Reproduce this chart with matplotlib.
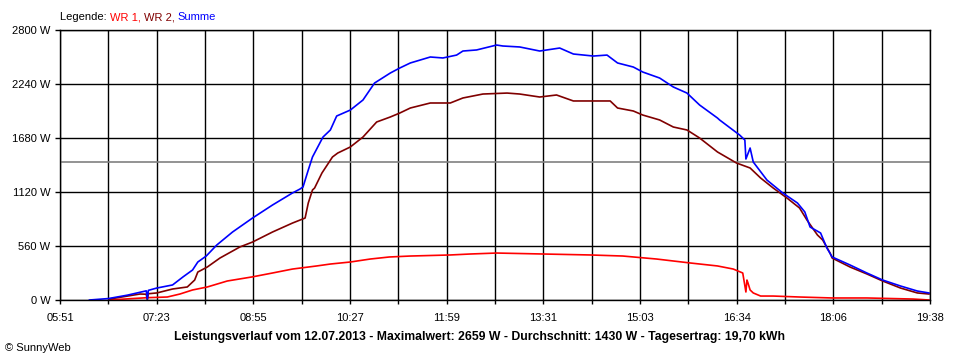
import matplotlib
matplotlib.use("Agg")
import matplotlib.pyplot as plt
import numpy as np

# Zeiten als "HH:MM", Leistung in W
summe_t = ["06:19", "06:37", "06:55", "07:13", "07:14", "07:15", "07:23", "07:38", "07:48",
           "07:57", "08:02", "08:10", "08:20", "08:35", "08:54", "09:13", "09:32", "09:39",
           "09:42", "09:47", "09:51", "10:01", "10:08", "10:14", "10:27", "10:39", "10:50",
           "11:05", "11:14", "11:24", "11:43", "11:55", "12:08", "12:14", "12:27", "12:46",
           "12:52", "13:08", "13:27", "13:46", "13:59", "14:18", "14:31", "14:41", "14:56",
           "15:05", "15:21", "15:34", "15:47", "15:59", "16:16", "16:18", "16:37", "16:42",
           "16:43", "16:47", "16:50", "17:03", "17:18", "17:32", "17:39", "17:44", "17:54",
           "18:00", "18:05", "18:22", "18:38", "18:53", "19:10", "19:26", "19:37"]
summe_w = [0, 15, 50, 95, 10, 100, 124, 156, 240,
           311, 394, 456, 570, 705, 850, 985, 1110, 1150,
           1172, 1348, 1483, 1690, 1763, 1908, 1970, 2074, 2250,
           2354, 2406, 2458, 2520, 2510, 2540, 2582, 2593, 2644,
           2634, 2624, 2582, 2613, 2551, 2530, 2540, 2458, 2416,
           2364, 2302, 2209, 2146, 2022, 1887, 1867, 1711, 1659,
           1462, 1576, 1431, 1244, 1110, 1006, 913, 757, 695,
           539, 446, 363, 280, 207, 145, 93, 73]

wr2_t = ["06:38", "07:07", "07:13", "07:14", "07:15", "07:23", "07:38", "07:52", "07:59",
         "08:02", "08:11", "08:23", "08:42", "08:54", "09:13", "09:32", "09:44", "09:47",
         "09:51", "09:53", "10:00", "10:10", "10:15", "10:27", "10:39", "10:52", "11:05",
         "11:14", "11:24", "11:43", "12:02", "12:14", "12:33", "12:56", "13:08", "13:27",
         "13:43", "13:59", "14:18", "14:34", "14:41", "14:56", "15:05", "15:21", "15:34",
         "15:47", "15:59", "16:16", "16:34", "16:47", "16:57", "17:09", "17:22", "17:34",
         "17:41", "17:51", "17:56", "18:03", "18:05", "18:22", "18:38", "18:53", "19:10",
         "19:26", "19:37"]
wr2_w = [10, 62, 60, 0, 65, 73, 114, 135, 207,
         290, 342, 435, 550, 601, 705, 798, 850, 1006,
         1141, 1161, 1317, 1483, 1524, 1587, 1690, 1846, 1898,
         1939, 1991, 2043, 2043, 2095, 2136, 2146, 2136, 2105,
         2126, 2064, 2064, 2064, 1991, 1960, 1918, 1867, 1794,
         1763, 1680, 1535, 1421, 1369, 1265, 1161, 1058, 954,
         830, 674, 622, 487, 435, 342, 270, 197, 124,
         73, 62]

wr1_t = ["06:38", "06:57", "07:14", "07:33", "07:45", "07:57", "08:11", "08:30", "08:54",
         "09:13", "09:32", "09:55", "10:08", "10:27", "10:46", "11:04", "11:24", "12:02",
         "12:21", "12:46", "13:30", "14:15", "14:46", "15:18", "15:50", "16:16", "16:31",
         "16:40", "16:43", "16:44", "16:45", "16:47", "16:50", "16:57", "17:09", "17:34",
         "18:05", "18:38", "19:22", "19:37"]
wr1_w = [0, 13, 24, 31, 62, 104, 135, 197, 240,
         280, 321, 353, 373, 394, 425, 446, 456, 467,
         477, 487, 477, 467, 456, 425, 384, 353, 321,
         280, 83, 207, 176, 104, 73, 41, 41, 31,
         21, 21, 10, 0]

avg_w = 1430
x_labels = ["05:51", "07:23", "08:55", "10:27", "11:59", "13:31", "15:03", "16:34", "18:06", "19:38"]
y_ticks = [0, 560, 1120, 1680, 2240, 2800]


def to_min(ts):
    return [int(s[:2]) * 60 + int(s[3:]) for s in ts]


plt.rcParams['font.family'] = ['Liberation Sans', 'DejaVu Sans']

fig = plt.figure(figsize=(9.6, 3.6), dpi=100)
ax = fig.add_axes([60 / 960, 60 / 360, 870 / 960, 270 / 360])

t0, t1 = 351, 1178
ax.set_xlim(t0, t1)
ax.set_ylim(0, 2800)

ax.set_xticks(np.linspace(t0, t1, 10))
ax.set_xticklabels(x_labels, fontsize=8)
ax.set_xticks(np.linspace(t0, t1, 19), minor=True)
ax.set_yticks(y_ticks)
ax.set_yticklabels([f"{v} W" for v in y_ticks], fontsize=8)

ax.grid(True, which='both', axis='x', color='black', lw=1)
ax.grid(True, which='major', axis='y', color='black', lw=1)
ax.tick_params(axis='x', which='both', direction='out', length=3, width=1, pad=6.5)
ax.tick_params(axis='y', direction='out', length=3.5, width=1, pad=3.5)
for sp in ax.spines.values():
    sp.set_linewidth(1)
ax.set_axisbelow(True)

ax.axhline(avg_w, color='#808080', lw=1.2)
ax.plot(to_min(wr1_t), wr1_w, color='#ff0000', lw=1.2)
ax.plot(to_min(wr2_t), wr2_w, color='#800000', lw=1.2)
ax.plot(to_min(summe_t), summe_w, color='#0000ff', lw=1.2)

# Legende als farbige Textstücke
renderer = fig.canvas.get_renderer()
x = 60
for txt, col in [("Legende: ", 'black'), ("WR 1, ", '#ff0000'),
                 ("WR 2, ", '#800000'), ("Summe", '#0000ff')]:
    t = fig.text(x / 960, 1 - 17 / 360, txt, color=col, fontsize=8, va='center', ha='left')
    x += t.get_window_extent(renderer).width

fig.text(0.5, 1 - 337 / 360,
         "Leistungsverlauf vom 12.07.2013 - Maximalwert: 2659 W - Durchschnitt: 1430 W - Tagesertrag: 19,70 kWh",
         ha='center', va='center', fontsize=8.8, fontweight='bold')
fig.text(5 / 960, 1 - 348 / 360, "© SunnyWeb", ha='left', va='center', fontsize=8)

fig.savefig("out.png", dpi=100, facecolor='white')
